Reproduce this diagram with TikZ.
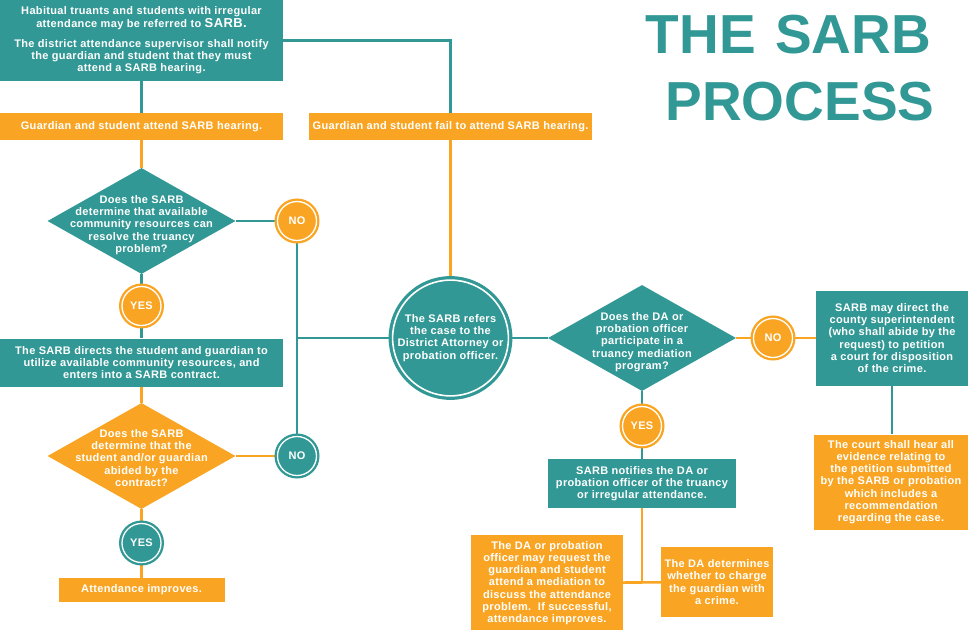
\documentclass[tikz,border=0pt]{standalone}
\usepackage{fontspec}
\setmainfont{Liberation Sans}[LetterSpace=3]
\usetikzlibrary{shapes.geometric,backgrounds}
\definecolor{sarbteal}{RGB}{50,152,149}
\definecolor{sarborange}{RGB}{249,165,35}

\begin{document}
\begin{tikzpicture}
         [x=1pt,y=-1pt,
          every node/.style={inner sep=0pt, text=white, align=center, font=\bfseries\fontsize{11}{12.2}\selectfont},
          tealbox/.style={rectangle, fill=sarbteal},
          orangebox/.style={rectangle, fill=sarborange},
          query/.style={diamond, minimum width=188, minimum height=106, fill=#1},
          answer/.style={circle, minimum size=39, fill=#1, draw=white, line width=1.3pt, preaction={draw=#1, line width=6pt}},
          link/.style={line width=2.6pt}]
         \useasboundingbox (0,0) rectangle (968,629);
         % title
         \node[text=sarbteal, font=\bfseries\fontsize{55}{55}\selectfont\addfontfeature{LetterSpace=0}] (title1) at (788.5,35) {THE\hspace{4pt} SARB};
         \node[text=sarbteal, font=\bfseries\fontsize{55}{55}\selectfont\addfontfeature{LetterSpace=0}] (title2) at (800,102) {PROCESS};
         % left column
         \node[tealbox, minimum width=283, minimum height=81] (intro) at (141.5,40.5)
           {Habitual truants and students with irregular\\
            attendance may be referred to {\fontsize{13}{12}\selectfont SARB.}\\[8pt]
            The district attendance supervisor shall notify\\
            the guardian and student that they must\\
            attend a SARB hearing.};
         \node[orangebox, minimum width=283, minimum height=27] (attend) at (141.5,126.5) {Guardian and student attend SARB hearing.};
         \node[orangebox, minimum width=283, minimum height=27] (fail) at (450.5,126.5) {Guardian and student fail to attend SARB hearing.};
         \node[query=sarbteal] (q1) at (141.5,221) {};
         \node (q1text) at (141.5,225) {Does the SARB\\determine that available\\community resources can\\resolve the truancy\\problem?};
         \node[answer=sarborange] (no1) at (297,221) {NO};
         \node[answer=sarborange] (yes1) at (141.5,306) {YES};
         \node[tealbox, minimum width=283, minimum height=48] (direct) at (141.5,362.5)
           {The SARB directs the student and guardian to\\utilize available community resources, and\\enters into a SARB contract.};
         \node[query=sarborange] (q2) at (141.5,456) {};
         \node (q2text) at (141.5,458) {Does the SARB\\determine that the\\student and/or guardian\\abided by the\\contract?};
         \node[answer=sarbteal] (no2) at (297,456) {NO};
         \node[answer=sarbteal] (yes2) at (141.5,543) {YES};
         \node[orangebox, minimum width=166, minimum height=24] (improves) at (141.5,590) {Attendance improves.};
         \coordinate (branch) at (297,338);
         % middle
         \node[circle, minimum size=114, fill=sarbteal, draw=white, line width=1.6pt, preaction={draw=sarbteal, line width=8pt}] (refer) at (450.5,338)
           {The SARB refers\\the case to the\\District Attorney or\\probation officer.};
         \node[query=sarbteal] (q3) at (642,338) {};
         \node (q3text) at (642,342) {Does the DA or\\probation officer\\participate in a\\truancy mediation\\program?};
         \node[answer=sarborange] (no3) at (773,338) {NO};
         \node[answer=sarborange] (yes3) at (642,426) {YES};
         \node[tealbox, minimum width=188, minimum height=49] (notify) at (642,483.5)
           {SARB notifies the DA or\\probation officer of the truancy\\or irregular attendance.};
         \coordinate (split) at (642,582);
         \node[orangebox, minimum width=152, minimum height=96] (mediation) at (547,583)
           {The DA or probation\\officer may request the\\guardian and student\\attend a mediation to\\discuss the attendance\\problem.\ \ If successful,\\attendance improves.};
         \node[orangebox, minimum width=112, minimum height=70] (charge) at (717,582)
           {The DA determines\\whether to charge\\the guardian with\\a crime.};
         % right column
         \node[tealbox, minimum width=152, minimum height=95] (county) at (892,338)
           {SARB may direct the\\county superintendent\\(who shall abide by the\\request) to petition\\a court for disposition\\of the crime.};
         \node[orangebox, minimum width=154, minimum height=95] (court) at (891,482)
           {The court shall hear all\\evidence relating to\\the petition submitted\\by the SARB or probation\\which includes a\\recommendation\\regarding the case.};
         \begin{scope}[on background layer]
         \foreach \from/\to in {intro/attend, q1/no1, q1/yes1, yes1/direct, no1/no2, branch/refer, refer/q3, q3/yes3, yes3/notify}
            \draw[link, sarbteal] (\from) -- (\to);
         \foreach \from/\to in {attend/q1, fail/refer, direct/q2, q2/no2, q2/yes2, yes2/improves, q3/no3, no3/county, notify/split, mediation/charge}
            \draw[link, sarborange] (\from) -- (\to);
         \draw[link, sarbteal] (intro) -| (fail);
         \draw[link, sarbteal] (county) -- (county |- court.north);
         \end{scope}
       \end{tikzpicture}
\end{document}
